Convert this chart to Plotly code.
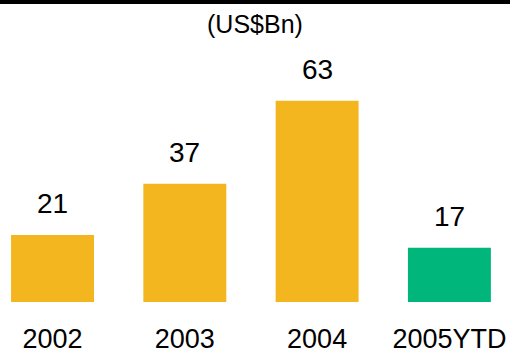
import plotly.graph_objects as go

# Annual volumes in US$ billions
years = ["2002", "2003", "2004", "2005YTD"]
volumes = [21, 37, 63, 17]
bar_colors = ["#F3B61F", "#F3B61F", "#F3B61F", "#00B67A"]

FONT = "Arial, Liberation Sans, sans-serif"

fig = go.Figure(
    go.Bar(
        x=years,
        y=volumes,
        marker=dict(color=bar_colors, line=dict(width=0)),
        hoverinfo="skip",
    )
)

# Value labels centred above each bar (category index positions)
for i, v in enumerate(volumes):
    fig.add_annotation(
        x=i, y=v, xref="x", yref="y",
        text=str(v), showarrow=False,
        yanchor="middle", yshift=31,
        font=dict(family=FONT, size=28, color="#000000"),
    )

# Units caption
fig.add_annotation(
    x=0.5, y=1 + 16 / 262, xref="paper", yref="paper",
    text="(US$Bn)", showarrow=False, yanchor="middle",
    font=dict(family=FONT, size=25, color="#000000"),
)

# Black rule along the top edge
fig.add_shape(
    type="rect", xref="paper", yref="paper",
    x0=0, x1=1, y0=1 + 36 / 262, y1=1 + 41 / 262,
    fillcolor="#000000", line=dict(width=0), layer="above",
)

fig.update_layout(
    width=510, height=351,
    margin=dict(l=0, r=0, t=40, b=49, autoexpand=False),
    paper_bgcolor="#FFFFFF", plot_bgcolor="#FFFFFF",
    bargap=0.373,
    showlegend=False,
    xaxis=dict(
        type="category",
        range=[-0.397, 3.458],
        automargin=False,
        showgrid=False, zeroline=False, showline=False,
        ticks="", ticklabelstandoff=18,
        tickfont=dict(family=FONT, size=27, color="#000000"),
        fixedrange=True,
    ),
    yaxis=dict(
        range=[0, 82], visible=False, automargin=False, fixedrange=True,
    ),
)

fig.write_html("out.html")
